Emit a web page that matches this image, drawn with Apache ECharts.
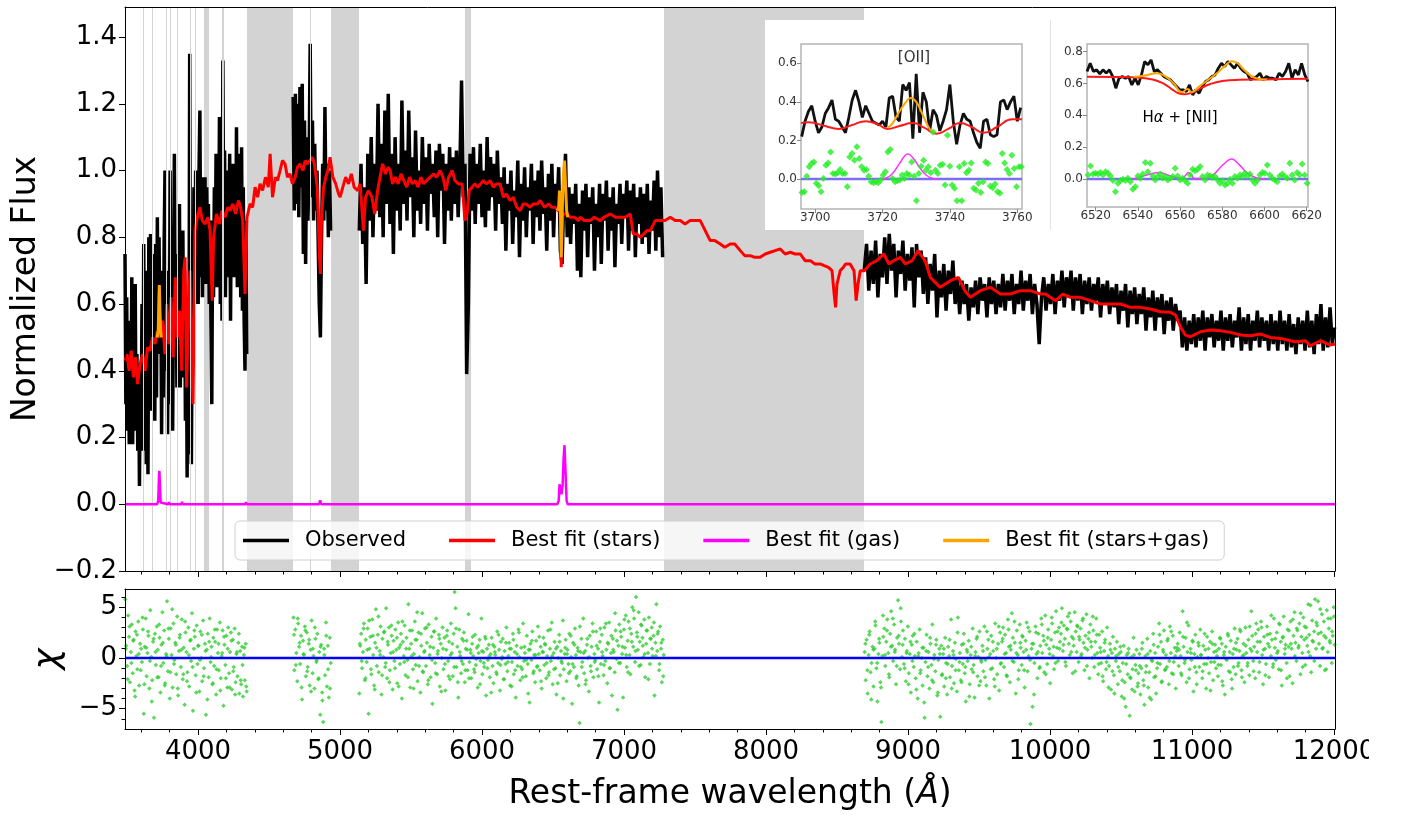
<!DOCTYPE html>
<html>
<head>
<meta charset="utf-8">
<script src="https://cdn.jsdelivr.net/npm/echarts@6/dist/echarts.min.js"></script>
<style>
  html, body { margin: 0; padding: 0; background: #fff; }
  #chart { width: 1402px; height: 815px; }
</style>
</head>
<body>
<div id="chart"></div>
<script>
// ---- wavelength range of both panels
const xMin = 3486, xMax = 12007;
const xMajor = [4000, 5000, 6000, 7000, 8000, 9000, 10000, 11000, 12000];
const xMinor = [3600, 3800, 4200, 4400, 4600, 4800, 5200, 5400, 5600, 5800, 6200, 6400, 6600, 6800,
  7200, 7400, 7600, 7800, 8200, 8400, 8600, 8800, 9200, 9400, 9600, 9800, 10200, 10400, 10600, 10800,
  11200, 11400, 11600, 11800];
const fluxTicks = [-0.2, 0, 0.2, 0.4, 0.6, 0.8, 1.0, 1.2, 1.4];
const chiTicks = [-5, 0, 5];
const chiMinor = [-6, -4, -3, -2, -1, 1, 2, 3, 4, 6];

// masked (grey) regions and thin masked lines
const maskBands = [[4042, 4078], [4345, 4669], [4937, 5134], [5880, 5923], [7282, 8690]];
const maskLines = [3613, 3676, 3773, 3808, 3852, 3944, 3979, 4169, 4176, 4789];

// observed spectrum, sampled on regular wavelength grids (start, end)
const obs1Range = [3486, 4343];
const obs1Flux = [0.75,0.30,0.62,0.22,0.55,0.18,0.50,0.26,0.68,0.18,0.58,0.30,0.66,0.22,0.45,0.16,0.40,0.055,0.42,0.25,
  0.60,0.16,0.78,0.35,0.70,0.12,0.62,0.09,0.80,0.30,0.81,0.28,0.75,0.35,0.72,0.25,0.78,0.32,0.86,0.45,
  0.80,0.50,0.70,0.21,0.62,0.32,0.78,1.0,0.40,0.70,0.21,0.60,0.30,1.0,0.45,0.72,0.22,0.65,1.05,0.50,
  0.75,0.35,0.68,0.40,0.90,0.35,0.75,0.45,0.82,0.38,0.70,0.25,0.62,0.08,0.55,0.15,1.35,0.40,0.12,0.60,
  0.45,0.95,0.60,1.0,0.65,0.90,0.60,1.0,1.18,0.68,0.98,0.62,0.92,0.70,0.98,0.66,0.95,0.75,0.90,0.60,
  0.85,0.55,0.30,0.85,0.62,0.95,0.70,1.05,0.65,1.0,0.72,1.16,0.60,1.02,0.55,1.33,0.75,1.06,0.62,0.98,
  0.72,1.0,0.68,1.05,0.55,0.95,0.72,1.02,0.68,0.98,0.70,1.13,0.65,1.0,0.72,1.05,0.62,1.07,0.58,0.95,
  0.55,0.40,0.85,0.45];
const obs2Range = [4670, 4934];
const obs2Flux = [1.22,0.88,1.23,0.90,1.20,0.86,1.25,0.95,1.26,0.75,1.15,0.72,1.10,0.85,1.0,1.38,0.92,1.15,0.85,1.08,
  0.88,1.0,0.80,0.60,0.50,0.80,1.02,0.85,1.19,0.88,1.02,0.80,1.0,0.82];
const obs3Range = [5136, 7272];
const obs3Flux = [0.82,1.02,0.78,0.95,0.66,1.05,0.85,1.10,0.80,1.02,0.88,1.20,0.86,1.08,0.80,1.18,0.90,1.23,0.84,1.05,
  0.75,1.10,0.88,1.02,0.82,1.21,0.90,1.06,0.85,1.18,0.92,1.04,0.80,1.12,0.88,1.00,0.84,1.10,0.90,1.04,
  0.82,1.08,0.93,1.02,0.86,1.06,0.80,1.08,0.94,1.05,0.78,1.02,0.88,1.07,0.85,1.04,0.90,1.06,0.86,1.00,
  1.27,0.92,1.02,0.39,0.60,1.05,0.88,1.07,0.84,1.02,0.90,1.08,0.86,1.00,0.83,1.10,0.88,1.04,0.92,1.02,
  0.82,1.06,0.90,0.98,0.84,1.01,0.76,0.96,0.88,1.00,0.78,0.94,0.86,1.03,0.74,0.96,0.85,1.01,0.80,0.95,
  0.88,1.02,0.78,0.97,0.86,1.00,0.82,1.03,0.87,0.95,0.76,0.99,0.85,1.02,0.80,0.96,0.88,1.01,0.76,0.72,
  0.92,1.05,0.80,0.95,0.78,0.93,0.84,0.96,0.70,0.90,0.68,0.94,0.82,0.96,0.74,0.92,0.84,0.95,0.70,0.90,
  0.80,0.96,0.72,0.93,0.85,0.97,0.76,0.92,0.82,0.95,0.71,0.90,0.84,0.96,0.78,0.93,0.86,0.97,0.76,0.94,
  0.82,0.96,0.74,0.92,0.84,0.95,0.78,0.93,0.80,0.96,0.75,0.91,0.82,0.97,0.76,1.00,0.80,0.95,0.74];
const obs4Range = [8692, 12004];
const obs4Flux = [0.70,0.78,0.64,0.76,0.66,0.79,0.62,0.75,0.68,0.80,0.66,0.81,0.70,0.78,0.62,0.76,0.69,0.79,0.64,0.75,
  0.67,0.77,0.59,0.78,0.68,0.76,0.63,0.74,0.60,0.72,0.64,0.75,0.56,0.70,0.62,0.72,0.58,0.70,0.63,0.73,
  0.60,0.68,0.57,0.67,0.60,0.66,0.55,0.65,0.59,0.67,0.57,0.68,0.61,0.66,0.56,0.68,0.60,0.67,0.57,0.66,
  0.59,0.69,0.58,0.67,0.61,0.69,0.57,0.66,0.60,0.70,0.58,0.67,0.61,0.69,0.57,0.66,0.60,0.48,0.62,0.68,
  0.58,0.66,0.60,0.69,0.57,0.67,0.61,0.70,0.59,0.68,0.62,0.70,0.58,0.68,0.61,0.69,0.57,0.67,0.60,0.68,
  0.58,0.66,0.61,0.68,0.56,0.66,0.60,0.67,0.57,0.65,0.59,0.66,0.54,0.64,0.58,0.66,0.53,0.64,0.57,0.65,
  0.54,0.63,0.57,0.65,0.52,0.62,0.56,0.64,0.52,0.62,0.56,0.63,0.51,0.61,0.55,0.62,0.52,0.60,0.55,0.58,
  0.47,0.56,0.46,0.55,0.48,0.57,0.47,0.56,0.49,0.58,0.46,0.56,0.50,0.57,0.47,0.55,0.49,0.58,0.46,0.56,
  0.49,0.57,0.47,0.55,0.50,0.59,0.46,0.56,0.48,0.57,0.46,0.55,0.49,0.58,0.47,0.56,0.49,0.55,0.46,0.57,
  0.48,0.55,0.46,0.58,0.48,0.55,0.46,0.57,0.47,0.54,0.45,0.56,0.48,0.55,0.46,0.58,0.47,0.55,0.45,0.57,
  0.48,0.60,0.46,0.56,0.47,0.59,0.48,0.53];

// best-fit stellar continuum [wavelength, flux]
const starsFit = [[3486,0.43],[3500,0.45],[3515,0.40],[3530,0.46],[3545,0.38],[3560,0.44],[3575,0.36],[3592,0.42],
  [3610,0.45],[3627,0.40],[3645,0.47],[3662,0.46],[3680,0.50],[3697,0.48],[3715,0.52],[3733,0.50],[3750,0.55],
  [3768,0.45],[3780,0.60],[3795,0.48],[3810,0.62],[3825,0.44],[3840,0.68],[3855,0.50],[3870,0.58],[3885,0.40],
  [3900,0.70],[3909,0.74],[3920,0.35],[3935,0.62],[3944,0.70],[3955,0.45],[3965,0.30],[3979,0.82],[3995,0.86],
  [4014,0.89],[4030,0.85],[4050,0.84],[4070,0.86],[4085,0.82],[4100,0.61],[4110,0.80],[4130,0.87],[4150,0.84],
  [4170,0.88],[4191,0.86],[4210,0.89],[4226,0.88],[4245,0.90],[4265,0.87],[4285,0.91],[4300,0.89],[4315,0.85],
  [4331,0.63],[4345,0.86],[4367,0.90],[4385,0.89],[4402,0.95],[4420,0.92],[4437,0.96],[4455,0.94],[4475,0.98],
  [4495,0.95],[4508,1.05],[4525,0.92],[4545,0.98],[4560,0.97],[4578,1.00],[4595,1.03],[4613,1.02],[4630,0.98],
  [4648,0.99],[4665,0.96],[4685,0.98],[4700,1.01],[4719,1.02],[4740,1.00],[4755,1.03],[4770,1.02],[4789,1.03],
  [4805,1.04],[4820,1.02],[4840,0.95],[4855,0.75],[4862,0.69],[4870,0.86],[4885,0.95],[4900,0.98],[4915,1.00],
  [4930,1.04],[4950,0.98],[4970,0.96],[4990,0.93],[5001,0.92],[5020,0.95],[5040,0.98],[5060,0.96],[5080,0.99],
  [5100,0.95],[5125,0.94],[5142,0.96],[5165,0.82],[5180,0.92],[5200,0.94],[5225,0.92],[5245,0.87],[5265,0.94],
  [5282,0.98],[5300,1.02],[5320,0.99],[5340,1.01],[5353,1.00],[5370,0.96],[5390,0.98],[5410,0.96],[5430,0.99],
  [5450,0.97],[5470,0.95],[5490,0.98],[5510,0.96],[5530,0.97],[5550,0.95],[5570,0.98],[5590,0.96],[5610,0.97],
  [5635,0.98],[5660,0.99],[5680,0.98],[5705,1.00],[5725,0.98],[5745,0.94],[5765,0.98],[5790,1.00],[5810,0.97],
  [5835,0.96],[5860,0.96],[5880,0.85],[5895,0.87],[5910,0.94],[5930,0.95],[5950,0.96],[5970,0.95],[5990,0.96],
  [6010,0.97],[6030,0.96],[6058,0.97],[6080,0.95],[6100,0.96],[6128,0.96],[6150,0.92],[6170,0.93],[6198,0.91],
  [6220,0.92],[6245,0.89],[6269,0.88],[6290,0.90],[6310,0.90],[6339,0.89],[6360,0.90],[6390,0.90],[6410,0.91],
  [6440,0.89],[6470,0.90],[6490,0.89],[6515,0.89],[6535,0.88],[6550,0.88],[6554,0.82],[6558,0.71],[6563,0.82],
  [6570,0.87],[6600,0.87],[6621,0.86],[6650,0.86],[6680,0.85],[6691,0.86],[6720,0.85],[6762,0.85],[6790,0.86],
  [6832,0.85],[6860,0.86],[6903,0.87],[6940,0.86],[6973,0.86],[7010,0.86],[7044,0.87],[7065,0.81],[7090,0.81],
  [7114,0.80],[7140,0.81],[7160,0.82],[7185,0.82],[7220,0.85],[7255,0.85],[7290,0.85],[7326,0.86],[7360,0.85],
  [7396,0.85],[7430,0.84],[7466,0.85],[7500,0.85],[7537,0.85],[7572,0.82],[7607,0.79],[7640,0.79],[7678,0.78],
  [7710,0.77],[7748,0.78],[7780,0.78],[7819,0.76],[7850,0.745],[7889,0.745],[7920,0.74],[7959,0.74],[7995,0.75],
  [8030,0.755],[8065,0.76],[8100,0.765],[8135,0.75],[8171,0.755],[8205,0.75],[8241,0.75],[8275,0.73],[8312,0.73],
  [8345,0.72],[8382,0.72],[8410,0.715],[8440,0.71],[8465,0.70],[8480,0.63],[8490,0.59],[8500,0.66],[8523,0.70],
  [8545,0.71],[8560,0.72],[8593,0.72],[8620,0.70],[8635,0.61],[8648,0.66],[8664,0.70],[8692,0.70],[8734,0.72],
  [8780,0.73],[8830,0.75],[8865,0.72],[8900,0.73],[8946,0.74],[8980,0.72],[9030,0.73],[9070,0.76],[9120,0.73],
  [9157,0.68],[9227,0.65],[9298,0.67],[9355,0.68],[9400,0.64],[9439,0.62],[9509,0.64],[9580,0.65],[9650,0.63],
  [9721,0.63],[9791,0.64],[9862,0.64],[9932,0.63],[9968,0.63],[10040,0.61],[10090,0.63],[10144,0.62],[10214,0.62],
  [10284,0.61],[10355,0.60],[10425,0.60],[10496,0.60],[10566,0.59],[10637,0.59],[10707,0.585],[10777,0.577],
  [10848,0.575],[10884,0.567],[10918,0.532],[10953,0.507],[10989,0.502],[11059,0.517],[11130,0.522],[11200,0.52],
  [11270,0.515],[11341,0.507],[11411,0.505],[11482,0.51],[11552,0.50],[11623,0.497],[11693,0.49],[11728,0.487],
  [11799,0.49],[11834,0.475],[11904,0.49],[11975,0.477],[12007,0.48]];

// gas emission and stars+gas around emission lines
const gasFit = [[3486,0],[3712,0],[3720,0.01],[3725,0.08],[3728,0.10],[3732,0.06],[3737,0.005],[3742,0],
  [3790,0],[3796,0.006],[3802,0],[3828,0],[3832,0.003],[3836,0],[3882,0],[3888,0.007],[3894,0],
  [4332,0],[4338,0.006],[4344,0],[4852,0],[4860,0.012],[4868,0],[6530,0],[6540,0.01],[6546,0.06],[6553,0.045],
  [6560,0.03],[6568,0.06],[6575,0.14],[6581,0.177],[6588,0.10],[6596,0.01],[6604,0],[12007,0]];
const comboFit = [[3712,0.50],[3720,0.52],[3725,0.62],[3728,0.657],[3732,0.58],[3737,0.52],[3742,0.50],[3745,'-'],
  [6530,0.88],[6540,0.89],[6546,0.94],[6550,0.92],[6554,0.86],[6558,0.74],[6562,0.82],[6568,0.93],[6575,1.0],
  [6581,1.03],[6588,0.96],[6596,0.88],[6604,0.86]];

// residuals (chi), regular grids; two interleaved samplings per fitted region
const res1Range = [3488, 4343];
const res1 = [5.8,1.2,-0.8,4.2,2.1,-2.4,0.6,3.3,-1.5,1.8,-3.2,2.6,0.2,-1.1,3.6,-2.7,1.4,0.9,-0.4,2.8,
  -5.5,1.1,3.9,-1.8,0.5,2.2,-3.0,4.7,0.1,-2.2,1.6,-5.9,2.4,-0.7,3.1,0.8,-1.9,2.0,-3.4,1.3,
  4.5,-0.5,2.7,-2.5,0.4,5.6,-1.3,1.9,-4.0,2.9,0.3,-2.9,3.4,-0.2,1.5,-1.6,4.1,-3.7,0.7,2.3,
  -0.9,3.8,-2.1,1.0,-4.6,2.5,0.6,-1.4,3.0,-2.8,1.7,-0.3,4.4,-5.2,0.9,2.1,-1.7,3.2,-0.6,1.2,
  -3.3,2.6,0.0,-2.3,3.7,-1.0,1.4,-5.6,0.8,2.4,-1.9,3.9,-0.4,1.1,-2.6,2.0,-0.8,1.6,-3.6,2.8,
  0.5,-1.2,3.5,-2.0,0.2,2.7,-4.7,1.3,-0.7,2.2,-2.9,3.0,-1.5,0.6,2.5,-3.1,1.8,-0.9,2.9,-2.4,
  0.4,-1.8,1.5,-3.5,0.7,-2.6,1.1,-3.8,0.3,-2.2,1.4,-3.3];
const res1bRange = [3492, 4340];
const res1b = [0.9,-2.1,3.1,-0.5,1.7,-3.8,2.3,0.4,-1.2,4.0,-2.6,1.0,2.6,-0.3,-4.3,1.9,0.6,-1.9,3.3,-0.8,
  1.5,-2.7,0.2,2.9,-1.4,4.8,-0.6,1.3,-3.0,2.0,0.8,-1.6,3.6,-2.3,0.3,1.8,-0.9,2.7,-3.4,1.2,
  -0.2,2.3,-1.8,0.7,-4.1,1.6,0.1,-2.5,2.8,-1.1,1.4,-3.2,0.5,2.1,-2.0,0.9,-2.9,1.7,-1.3,-3.6,
  0.6,2.4,-2.2,-0.7,1.0,-2.8];
const res2Range = [4672, 4935];
const res2 = [4.0,-1.2,2.8,0.5,-2.3,3.4,1.1,-0.6,2.2,-4.1,1.7,0.3,3.1,-1.8,2.5,-0.9,1.4,-2.7,0.8,3.7,
  -1.5,0.2,-3.0,1.9,-0.4,2.4,-2.1,0.6,-5.6,1.3,-3.4,-6.3,0.9,-1.7,3.5,-2.8,1.2,-3.9,2.0,-0.5];
const res2bRange = [4676, 4930];
const res2b = [2.3,-0.7,3.9,1.5,-2.9,0.4,2.7,-1.3,1.8,-3.3,0.9,3.0,-0.2,-2.0,1.1,-4.2,0.3,2.2,-1.1,-3.0];
const res3Range = [5136, 7280];
const res3 = [-3.5,1.2,2.4,-1.0,0.6,3.4,-2.2,1.8,-0.4,2.9,-5.5,0.9,2.1,-1.6,3.8,0.3,-2.7,1.5,4.8,-0.8,
  2.3,-1.4,0.7,3.1,-3.6,1.9,0.1,2.6,-0.9,4.9,-2.0,1.3,3.0,-1.2,0.5,2.2,-3.1,1.7,-0.3,2.8,
  0.8,-2.5,3.5,1.0,-0.6,2.4,-4.0,1.6,0.2,3.2,-1.7,2.0,-0.2,5.3,0.9,-2.9,1.4,2.7,-1.1,0.4,
  3.6,-0.7,1.8,-2.3,2.5,0.1,-3.4,1.2,4.4,-1.4,0.6,2.9,-0.8,1.5,-2.6,3.3,0.3,-1.9,2.1,-4.5,
  1.0,2.6,-0.5,3.9,-1.6,0.7,2.3,-2.8,1.4,0.0,3.0,-1.1,2.0,-3.2,0.8,2.7,-0.3,1.6,-2.1,3.4,
  0.5,-1.8,2.4,6.5,4.9,-0.9,1.1,-3.9,2.8,0.2,-1.5,1.9,-0.6,2.5,-2.4,0.9,1.7,-1.2,4.3,-0.4,
  0.8,-2.0,1.4,0.2,-1.1,2.3,-0.7,1.0,-2.9,0.5,1.8,-0.3,3.9,-1.6,0.6,-0.9,2.1,-3.7,0.9,-0.2,
  1.3,-1.9,0.4,2.0,-0.8,-2.5,1.1,0.3,-1.4,2.6,-0.5,0.8,-3.2,1.6,-0.1,1.9,-2.1,0.7,-0.6,3.0,
  -1.3,0.2,1.5,-2.7,0.9,-0.4,2.4,-1.6,0.6,-3.9,1.2,-0.8,2.8,0.1,-2.2,1.0,-1.1,3.4,-0.3,0.5,
  -1.8,2.2,-0.6,0.8,-4.4,1.4,-0.2,2.6,-1.5,0.3,-2.4,1.7,-0.9,3.1,0.4,-1.2,1.1,-3.0,0.6,2.0,
  -0.7,1.3,-2.0,0.2,2.7,-1.4,0.9,-0.3,3.5,-2.6,0.5,1.6,-1.0,-3.6,1.1,0.0,2.3,-1.7,0.7,-0.5,
  3.7,-1.1,0.4,1.8,-2.3,0.8,-0.6,2.4,-1.3,0.1,-4.5,1.5,-0.9,2.9,0.3,-1.8,1.0,-2.7,-6.4,0.6,
  1.9,-0.4,3.9,-1.5,0.7,-2.2,1.3,0.0,-3.3,2.2,-0.8,1.1,3.4,-1.9,0.4,-0.2,2.6,-1.1,0.9,-4.4,
  1.6,-0.6,2.3,0.2,-1.7,3.0,-0.3,0.8,-2.5,1.4,3.5,-1.0,0.5,-3.7,1.9,0.6,-1.4,2.7,-0.1,-5.1,
  1.2,3.3,-0.5,2.1,0.4,-3.9,2.8,1.0,4.2,-0.9,1.7,3.6,0.3,-1.6,2.4,5.0,1.1,3.9,-0.4,6.0,
  2.5,0.8,4.5,1.6,-0.7,3.2,2.0,0.1,3.8,-1.9,1.4,2.7,0.5,4.0,-0.6,1.9,3.0,0.2,2.2,-3.7,
  1.5,5.3,0.7,2.6,-1.2,3.1,0.9,-2.4,1.8,0.3];
const res3bRange = [5140, 7276];
const res3b = [1.4,-0.3,2.9,-2.0,0.8,3.7,-1.1,2.2,-3.1,1.0,4.1,0.3,-1.7,2.5,-0.5,1.6,-2.4,3.2,0.6,-1.0,
  2.0,-2.8,1.3,3.6,-0.4,0.9,-1.9,2.7,0.2,-3.0,1.8,4.5,-0.8,2.4,-1.3,0.7,3.0,-2.2,1.1,-0.2,
  2.6,-1.5,0.4,1.9,-3.3,0.9,-0.6,2.2,-1.8,0.3,1.4,-0.9,2.9,-2.4,0.6,-0.3,1.7,-1.2,0.8,-2.0,
  0.5,2.1,-1.4,-0.1,1.2,-2.6,0.7,-0.5,1.9,-1.0,0.2,-3.4,1.3,0.6,-1.6,2.3,-0.7,0.1,-2.1,1.5,
  -0.4,0.9,-2.8,1.8,-1.2,0.4,2.5,-0.9,-1.9,1.1,-0.2,-3.5,0.8,1.7,-1.3,0.3,-0.8,2.1,-2.3,0.6,
  1.4,-0.5,-1.7,2.8,0.2,-1.1,0.9,-2.5,1.6,-0.3,-4.0,1.0,0.4,-1.5,2.2,-0.6,1.3,-2.0,0.7,3.1,
  -0.9,0.5,-2.6,1.9,0.1,-1.3,2.6,-0.4,1.2,-1.8,2.9,0.6,-0.7,3.4,1.5,-1.0,2.2,0.8,4.4,1.7,
  -0.5,2.6,1.1,3.8,0.3,-1.4,2.9,1.6,4.7,0.7,2.1,-0.8,3.3,1.2,0.4,2.7,-2.1,1.9,0.9,3.5,
  0.2,2.4,-0.6,1.5,-1.8];
const res4Range = [8695, 12005];
const res4 = [0.6,-2.2,1.8,-3.5,0.3,2.6,-1.4,-0.5,1.1,-2.8,0.9,3.2,-1.0,-4.3,0.4,1.5,-2.4,-6.3,0.2,2.1,
  2.9,-0.8,1.6,3.8,0.5,-1.9,2.4,4.6,1.2,-0.3,3.3,0.8,-2.6,2.0,5.7,1.4,-1.1,3.6,0.1,2.7,
  -0.6,1.9,-2.3,0.7,3.1,-1.5,0.4,-3.4,1.3,2.2,-0.9,0.2,-2.0,1.6,-4.0,0.5,2.8,-1.2,0.0,-2.7,
  1.0,-5.9,-0.4,2.3,-1.8,0.6,-3.0,1.4,-0.7,3.3,-2.4,0.3,-1.3,1.8,-3.7,-0.2,0.9,-5.8,1.2,-1.6,
  0.4,-2.8,2.0,-0.5,-3.6,1.1,0.2,-1.9,3.8,-0.8,0.7,-2.5,1.5,-0.1,-3.3,4.0,-1.2,0.5,-2.2,1.3,
  -0.6,2.4,-1.5,-4.3,0.8,-0.3,1.7,-2.6,0.3,-1.1,2.9,-0.7,-3.9,0.6,1.9,-1.8,0.1,2.6,-2.3,-0.4,
  1.2,-1.3,3.1,-0.2,-2.7,0.9,1.8,-4.0,0.4,2.2,-1.0,0.7,-2.1,3.4,0.0,-1.6,1.4,-3.2,2.5,-0.5,
  1.6,3.0,-0.9,2.3,0.5,-1.8,3.8,1.1,-2.4,0.8,4.4,2.0,-0.4,1.5,-3.5,2.7,0.3,-1.2,3.3,1.0,
  -0.7,2.1,0.6,-2.9,1.7,3.5,-1.3,0.2,2.6,-6.5,0.9,-4.8,1.4,-0.5,3.1,0.4,-2.0,2.4,-1.0,1.2,
  3.9,0.5,2.2,-1.4,4.2,1.3,-0.6,2.8,0.9,-2.5,1.8,3.4,0.2,-1.1,2.5,4.6,1.0,-0.3,3.0,1.6,
  2.4,4.9,0.7,3.2,1.9,-0.8,2.9,4.1,1.4,0.3,3.6,2.1,-1.5,1.2,4.5,2.6,0.6,3.1,-0.4,1.8,
  2.9,0.4,3.7,1.5,-1.2,2.2,4.3,0.8,1.9,-2.0,3.3,1.1,0.0,2.7,-0.9,1.6,3.9,0.5,-1.6,2.3,
  1.0,-0.5,2.6,-2.3,0.7,1.8,-1.1,3.0,0.2,-0.8,1.4,-3.1,0.5,2.1,-1.7,0.9,-0.3,1.6,-2.6,0.4,
  -1.3,0.6,-3.8,-0.5,1.2,-2.4,-4.8,0.3,-1.6,0.9,-5.7,-2.0,0.1,-1.1,2.0,-3.3,-0.7,0.8,-2.8,-1.5,
  0.4,-3.6,-1.0,1.5,-2.2,-4.6,0.2,-0.8,1.9,-2.9,-1.4,0.7,-4.1,-0.3,2.4,-1.9,0.5,-3.5,-1.0,1.1,
  3.4,-0.6,1.6,-2.3,0.8,2.7,-1.2,0.3,-0.9,1.9,-2.6,3.1,0.5,-1.5,2.2,-0.4,1.0,-3.0,0.7,1.4,
  -0.8,2.5,0.2,-1.7,4.6,1.1,-0.5,2.0,-2.4,0.6,3.2,-1.1,0.9,-0.2,1.7,-3.3,0.4,2.3,-1.4,0.1,
  1.5,-0.9,2.8,0.3,-2.0,1.2,-0.6,0.8,-3.0,2.1,0.0,-1.5,1.6,-0.4,2.6,-2.2,0.6,1.3,-1.0,0.2,
  -1.8,0.9,2.0,-0.7,1.4,-2.7,0.3,-3.6,1.1,-0.2,2.4,-1.3,0.6,1.7,-2.1,0.4,-0.9,2.9,-1.6,0.8,
  1.9,-0.5,0.7,2.6,-1.2,0.2,1.4,-2.4,3.0,0.5,-0.8,1.8,-1.7,0.9,4.6,2.2,-0.3,1.1,-2.0,3.4,
  0.6,2.8,-1.4,1.6,3.6,0.3,-2.6,2.1,0.9,-0.6,3.1,1.4,-1.9,2.4,0.2,1.8,-0.9,3.9,1.0,-0.2,
  2.5,0.7,-1.1,3.3,1.6,-2.7,2.0,4.1,0.4,1.3,-0.5,2.8,1.1,-1.8,3.6,0.9,-2.5,2.2,4.5,1.5,
  -0.3,2.7,1.0,3.4,-1.6,2.1,0.5,4.0,1.8,-0.7,3.0,1.2,5.3,2.3,0.2,-1.4,3.7,1.6,2.6,5.8,
  0.9,3.2,5.6,1.4,-0.8,2.5,4.3,1.0,3.6,-1.2,2.0,4.7,0.6,2.9,1.7,3.9,-0.5,2.2,5.0,1.3];
const res4bRange = [8700, 12000];
const res4b = [1.4,-1.2,2.3,-4.1,0.8,3.6,-0.5,1.9,-2.9,4.2,0.3,2.7,-1.6,1.1,3.9,0.6,-0.8,2.2,4.9,1.3,
  -1.0,0.5,-2.6,1.6,-0.3,2.4,-3.1,0.2,-1.5,1.0,-4.4,0.7,-0.9,2.0,-2.2,-0.1,1.3,-3.4,0.4,-1.7,
  0.9,-2.0,-0.6,1.8,-3.0,0.3,-1.2,2.5,-0.4,-2.4,1.4,-0.9,0.6,-3.8,1.1,-1.4,0.2,2.1,-2.7,-0.2,
  0.7,-1.9,2.6,0.1,-1.1,1.6,-2.8,0.9,3.1,-0.6,1.9,0.4,-1.7,2.8,1.2,-0.3,3.6,0.5,-2.1,1.5,
  2.2,-1.2,0.8,3.0,-0.2,1.4,-3.6,2.5,0.6,-0.9,3.3,1.7,-1.6,2.0,0.4,4.0,1.1,-0.5,2.6,0.9,
  3.5,1.3,-0.4,2.8,4.4,0.6,1.9,-1.3,3.2,2.1,0.2,3.9,1.0,-0.8,2.5,1.6,4.1,0.3,2.3,-0.6,
  0.6,-1.8,1.5,-0.4,-2.9,0.8,-1.3,-3.5,0.2,-0.9,1.1,-2.2,-4.0,-0.6,0.5,-1.9,-3.1,0.3,-1.2,-2.5,
  -0.8,0.9,-2.7,-1.4,0.4,-3.9,-0.2,1.3,-1.8,-0.5,2.3,-2.4,0.6,-1.1,1.7,-0.3,2.6,-1.6,0.2,1.0,
  0.8,-1.5,2.1,-0.2,3.5,-2.0,0.5,1.6,-0.9,-2.6,1.2,0.3,-1.3,2.4,-0.6,0.9,-3.2,1.4,-0.4,0.7,
  -0.7,1.9,-2.3,0.6,-0.1,2.2,-1.4,-3.0,0.9,1.5,-0.8,2.8,-1.9,0.3,1.2,-0.5,3.1,0.7,-1.3,2.4,
  1.6,-0.4,3.0,0.8,-1.7,2.3,1.1,4.2,-0.6,1.9,0.5,3.4,-1.2,2.1,0.9,-2.0,2.7,1.4,3.8,0.2,
  2.9,1.2,4.4,-0.9,3.1,2.0,0.6,5.2,1.7,-0.3,3.5,2.4,4.8,0.9,2.2,-1.1,3.9,1.5,2.6,4.1];

// ---- inset: [OII]
const oiiObsRange = [3696, 3761];
const oiiObs = [0.22,0.30,0.35,0.38,0.30,0.24,0.27,0.34,0.37,0.41,0.31,0.30,0.27,0.24,0.32,0.41,0.46,0.40,0.32,0.38,
  0.34,0.30,0.29,0.28,0.30,0.27,0.42,0.43,0.32,0.30,0.49,0.46,0.50,0.21,0.545,0.24,0.45,0.40,0.25,0.36,
  0.33,0.25,0.30,0.36,0.49,0.30,0.18,0.28,0.34,0.31,0.30,0.24,0.19,0.16,0.30,0.31,0.23,0.22,0.23,0.40,
  0.41,0.36,0.40,0.43,0.30,0.37];
const oiiStars = [[3695.8,0.29],[3698,0.295],[3700,0.29],[3703,0.275],[3707,0.26],[3711,0.28],[3715,0.30],
  [3718.5,0.285],[3721.5,0.26],[3725,0.275],[3729,0.29],[3732.5,0.265],[3736,0.235],[3739.5,0.26],[3743,0.29],
  [3746.5,0.27],[3750,0.24],[3754,0.27],[3758.5,0.31],[3761.4,0.31]];
const oiiCombo = [[3721.5,0.265],[3723,0.29],[3725,0.35],[3727,0.40],[3728.3,0.42],[3730,0.40],[3732,0.33],
  [3734,0.26],[3735.2,0.24]];
const oiiGas = [[3719,0],[3721,0.005],[3723,0.03],[3725,0.08],[3726.5,0.118],[3727.5,0.13],[3729,0.11],
  [3731,0.06],[3733,0.02],[3735,0.003],[3736.5,0]];
const oiiResRange = [3696.1, 3761.2];
const oiiRes = [-0.07,-0.065,0.015,0.064,0.081,0.089,-0.022,-0.034,-0.065,0.003,0.072,0.084,0.141,0.029,0.026,0.033,
  0.05,0.029,0.029,-0.04,0.115,0.132,0.098,0.167,0.107,0.064,0.046,0.05,0.015,-0.014,-0.019,-0.014,-0.019,
  -0.005,0.021,0.038,0.141,0.153,0.003,-0.014,-0.009,-0.005,0.021,0.003,0.029,0.021,0.089,0.015,-0.112,0.029,
  0.067,0.098,0.046,0.064,0.033,0.244,0.046,0.029,0.072,0.077,-0.031,0.227,0.067,-0.031,-0.048,-0.112,0.064,
  -0.112,0.081,0.033,0.046,0.084,-0.048,-0.057,-0.022,-0.07,-0.014,0.089,0.081,-0.036,-0.045,-0.026,-0.065,
  -0.074,0.132,0.084,0.05,0.029,0.124,0.055,-0.04,0.064,0.064];

// ---- inset: H-alpha + [NII]
const haObsRange = [6515.9, 6620.6];
const haObs = [0.675,0.727,0.675,0.686,0.66,0.686,0.665,0.686,0.644,0.57,0.633,0.644,0.633,0.644,0.591,0.633,0.591,
  0.654,0.738,0.717,0.748,0.675,0.686,0.665,0.644,0.633,0.623,0.602,0.581,0.56,0.56,0.549,0.591,0.528,0.56,0.539,
  0.581,0.612,0.623,0.644,0.654,0.696,0.727,0.706,0.738,0.717,0.696,0.727,0.696,0.675,0.665,0.623,0.633,0.644,
  0.665,0.623,0.644,0.633,0.633,0.623,0.665,0.644,0.675,0.727,0.633,0.686,0.654,0.727,0.654,0.612];
const haStars = [[6515.9,0.643],[6530,0.641],[6540,0.638],[6547,0.625],[6552,0.60],[6556,0.565],[6559,0.54],
  [6562,0.532],[6565,0.54],[6569,0.565],[6574,0.595],[6580,0.615],[6588,0.623],[6600,0.625],[6610,0.628],[6620.6,0.63]];
const haCombo = [[6538,0.64],[6544,0.652],[6549,0.665],[6553,0.645],[6557,0.60],[6561,0.545],[6563.5,0.565],
  [6565.5,0.545],[6569,0.58],[6573,0.62],[6578,0.67],[6582,0.72],[6584.5,0.74],[6587,0.73],[6590,0.69],
  [6594,0.645],[6598,0.627],[6601,0.625]];
const haGas = [[6538,0],[6543,0.02],[6548,0.038],[6550,0.04],[6553,0.03],[6557,0.012],[6561,0.005],[6563,0.03],
  [6564,0.04],[6565.5,0.02],[6567,0.003],[6572,0.005],[6576,0.03],[6580,0.085],[6584.5,0.125],[6588,0.09],
  [6592,0.035],[6596,0.008],[6600,0]];
const haResRange = [6516.4, 6620.2];
const haRes = [0.025,0.082,0.031,0.036,0.031,0.04,0.025,0.046,0.036,0.019,-0.01,-0.08,-0.027,-0.01,-0.002,-0.01,
  0.004,-0.017,-0.065,-0.048,0.019,0.004,0.031,0.103,0.046,0.099,0.019,-0.006,0.015,0.031,0.004,0.015,-0.006,
  0.004,0.015,0.067,0.019,-0.006,0.004,-0.01,-0.027,0.025,0.061,0.052,0.061,0.078,0.015,-0.006,0.025,0.019,
  0.01,0.015,-0.006,-0.027,-0.01,-0.038,-0.027,-0.002,-0.027,0.015,0.004,0.025,0.015,0.036,0.019,0.031,-0.006,
  -0.027,-0.01,0.025,0.04,0.036,0.088,0.025,0.004,-0.006,-0.017,0.019,0.031,0.015,0.004,0.099,0.025,-0.006,
  0.04,0.025,0.094,0.025,-0.027];

// spread values of a regularly sampled array over its wavelength range
function onGrid(range, vals) {
  const step = (range[1] - range[0]) / (vals.length - 1);
  return vals.map((v, i) => [range[0] + i * step, v]);
}

const observed = [].concat(
  onGrid(obs1Range, obs1Flux), [[4344, '-']],
  onGrid(obs2Range, obs2Flux), [[4936, '-']],
  onGrid(obs3Range, obs3Flux), [[7274, '-']],
  onGrid(obs4Range, obs4Flux)
);
const residuals = [].concat(
  onGrid(res1Range, res1), onGrid(res1bRange, res1b),
  onGrid(res2Range, res2), onGrid(res2bRange, res2b),
  onGrid(res3Range, res3), onGrid(res3bRange, res3b),
  onGrid(res4Range, res4), onGrid(res4bRange, res4b)
);

const FONT = 'DejaVu Sans';
const minus = s => s.replace('-', '\u2212');
const fmt1 = v => minus((Math.abs(v) < 1e-9 ? 0 : v).toFixed(1));

const chart = echarts.init(document.getElementById('chart'));

function frameAxis(grid, pos, dim) {
  const a = {
    gridIndex: grid, type: 'value', position: pos, z: 10,
    axisLine: { show: true, onZero: false, lineStyle: { color: '#000', width: 1 } },
    axisTick: { show: false }, axisLabel: { show: false }, splitLine: { show: false }
  };
  if (dim === 'x') { a.min = xMin; a.max = xMax; }
  return a;
}
function tickAxis(grid, pos, min, max, values, len, labels, extra) {
  return Object.assign({
    gridIndex: grid, type: 'value', position: pos, min: min, max: max, z: 10,
    axisLine: { show: false, onZero: false },
    axisTick: { show: true, customValues: values, length: len, lineStyle: { color: '#000', width: 1 } },
    axisLabel: labels ? Object.assign({ show: true, customValues: values }, labels) : { show: false },
    splitLine: { show: false }
  }, extra || {});
}

const insetAxisBase = {
  type: 'value', z: 21,
  axisLine: { show: false, onZero: false },
  splitLine: { show: false }
};

const option = {
  animation: false,
  backgroundColor: '#fff',
  textStyle: { fontFamily: FONT },
  grid: [
    { left: 125, top: 7, width: 1210, height: 564, show: false },
    { left: 125, top: 589, width: 1210, height: 140, show: false },
    { left: 801, top: 44, width: 221, height: 165, show: true, z: 20, backgroundColor: '#fff', borderColor: '#b4b4b4', borderWidth: 1.5 },
    { left: 1087, top: 44, width: 221, height: 163, show: true, z: 20, backgroundColor: '#fff', borderColor: '#b4b4b4', borderWidth: 1.5 }
  ],
  xAxis: [
    // 0: main, major ticks + bottom line
    Object.assign(tickAxis(0, 'bottom', xMin, xMax, xMajor, 6, null), { axisLine: { show: true, onZero: false, lineStyle: { color: '#000' } } }),
    tickAxis(0, 'bottom', xMin, xMax, xMinor, 3.5, null),
    frameAxis(0, 'top', 'x'),
    // 3: residual panel with labels
    Object.assign(tickAxis(1, 'bottom', xMin, xMax, xMajor, 6,
      { fontSize: 26, color: '#000', margin: 10, formatter: v => String(v) }),
      {
        axisLine: { show: true, onZero: false, lineStyle: { color: '#000' } },
        name: '{n|Rest-frame wavelength (}{i|\u00c5}{n|)}', nameLocation: 'middle', nameGap: 49,
        nameTextStyle: { rich: { n: { fontSize: 33, fontFamily: FONT, color: '#000' },
          i: { fontSize: 33, fontFamily: FONT, fontStyle: 'italic', color: '#000' } } }
      }),
    tickAxis(1, 'bottom', xMin, xMax, xMinor, 3.5, null),
    frameAxis(1, 'top', 'x'),
    // 6: [OII] inset
    Object.assign({}, insetAxisBase, {
      gridIndex: 2, min: 3695.8, max: 3761.4,
      axisTick: { show: true, customValues: [3700, 3720, 3740, 3760], length: 4, lineStyle: { color: '#888' } },
      axisLabel: { customValues: [3700, 3720, 3740, 3760], fontSize: 12, color: '#333', margin: 3, formatter: v => String(v) }
    }),
    // 7: H-alpha inset
    Object.assign({}, insetAxisBase, {
      gridIndex: 3, min: 6515.9, max: 6620.6,
      axisTick: { show: true, customValues: [6520, 6540, 6560, 6580, 6600, 6620], length: 4, lineStyle: { color: '#888' } },
      axisLabel: { customValues: [6520, 6540, 6560, 6580, 6600, 6620], fontSize: 12, color: '#333', margin: 3, formatter: v => String(v) }
    })
  ],
  yAxis: [
    // 0: main flux axis
    Object.assign(tickAxis(0, 'left', -0.2, 1.49, fluxTicks, 6,
      { fontSize: 26, color: '#000', margin: 8, formatter: fmt1 }),
      {
        axisLine: { show: true, onZero: false, lineStyle: { color: '#000' } },
        name: 'Normalized Flux', nameLocation: 'middle', nameGap: 82, nameRotate: 90,
        nameTextStyle: { fontSize: 33, color: '#000', fontFamily: FONT }
      }),
    Object.assign(frameAxis(0, 'right', 'y'), { min: -0.2, max: 1.49 }),
    // 2: residual axis
    Object.assign(tickAxis(1, 'left', -7, 6.8, chiTicks, 6,
      { fontSize: 26, color: '#000', margin: 8, formatter: v => minus(String(v)) }),
      {
        axisLine: { show: true, onZero: false, lineStyle: { color: '#000' } },
        name: '\u03c7', nameLocation: 'middle', nameGap: 58, nameRotate: 90,
        nameTextStyle: { fontSize: 36, color: '#000', fontFamily: FONT, fontStyle: 'italic' }
      }),
    tickAxis(1, 'left', -7, 6.8, chiMinor, 3.5, null),
    Object.assign(frameAxis(1, 'right', 'y'), { min: -7, max: 6.8 }),
    // 5: [OII] inset
    Object.assign({}, insetAxisBase, {
      gridIndex: 2, min: -0.155, max: 0.7,
      axisTick: { show: true, customValues: [0, 0.2, 0.4, 0.6], length: 4, lineStyle: { color: '#888' } },
      axisLabel: { customValues: [0, 0.2, 0.4, 0.6], fontSize: 12, color: '#333', margin: 4, formatter: fmt1 }
    }),
    // 6: H-alpha inset
    Object.assign({}, insetAxisBase, {
      gridIndex: 3, min: -0.176, max: 0.848,
      axisTick: { show: true, customValues: [0, 0.2, 0.4, 0.6, 0.8], length: 4, lineStyle: { color: '#888' } },
      axisLabel: { customValues: [0, 0.2, 0.4, 0.6, 0.8], fontSize: 12, color: '#333', margin: 4, formatter: fmt1 }
    })
  ],
  legend: {
    left: 235, top: 521, z: 30,
    data: ['Observed', 'Best fit (stars)', 'Best fit (gas)', 'Best fit (stars+gas)'].map(n => ({ name: n, icon: 'rect' })),
    itemWidth: 46, itemHeight: 3.5, itemGap: 43,
    padding: [9, 15, 9, 8],
    backgroundColor: 'rgba(255,255,255,0.8)', borderColor: '#d0d0d0', borderWidth: 1, borderRadius: 5,
    textStyle: { fontSize: 21, color: '#000', fontFamily: FONT, padding: [0, 0, 0, 11] }
  },
  graphic: [
    { type: 'rect', z: 10, silent: true, shape: { x: 765, y: 20, width: 278, height: 210 }, style: { fill: '#fff' } },
    { type: 'rect', z: 10, silent: true, shape: { x: 1050, y: 20, width: 284, height: 210 }, style: { fill: '#fff' } },
    { type: 'line', z: 11, silent: true, shape: { x1: 1050.5, y1: 20, x2: 1050.5, y2: 230 }, style: { stroke: '#e2e2e2', lineWidth: 1 } },
    { type: 'text', z: 30, silent: true, x: 914, y: 58.5,
      style: { text: '[OII]', font: '15px "DejaVu Sans"', fill: '#333', align: 'center', verticalAlign: 'middle' } },
    { type: 'text', z: 30, silent: true, x: 1180, y: 118,
      style: { text: '{a|H}{b|\u03b1}{a| + [NII]}', align: 'center', verticalAlign: 'middle',
        rich: { a: { fontSize: 15, fontFamily: FONT, color: '#333' }, b: { fontSize: 15, fontFamily: FONT, fontStyle: 'italic', color: '#333' } } } },
    { type: 'rect', z: 50, silent: true, shape: { x: 1369, y: 735, width: 33, height: 40 }, style: { fill: '#fff' } }
  ],
  series: [
    {
      // masked regions
      type: 'line', xAxisIndex: 0, yAxisIndex: 0, z: 1, silent: true,
      data: [[xMin, 0]], showSymbol: false, lineStyle: { width: 0 },
      markArea: { silent: true, itemStyle: { color: '#d3d3d3' },
        data: maskBands.map(b => [{ xAxis: b[0] }, { xAxis: b[1] }]) },
      markLine: { silent: true, symbol: ['none', 'none'], label: { show: false },
        lineStyle: { color: '#d3d3d3', width: 1, type: 'solid' },
        data: maskLines.map(x => ({ xAxis: x })) }
    },
    {
      name: 'Observed', type: 'line', xAxisIndex: 0, yAxisIndex: 0, z: 3,
      data: observed, showSymbol: false, connectNulls: false,
      itemStyle: { color: '#000' }, lineStyle: { color: '#000', width: 3.5 }
    },
    {
      name: 'Best fit (stars)', type: 'line', xAxisIndex: 0, yAxisIndex: 0, z: 4,
      data: starsFit, showSymbol: false,
      itemStyle: { color: '#ff0000' }, lineStyle: { color: '#ff0000', width: 3 }
    },
    {
      name: 'Best fit (gas)', type: 'line', xAxisIndex: 0, yAxisIndex: 0, z: 5,
      data: gasFit, showSymbol: false,
      itemStyle: { color: '#ff00ff' }, lineStyle: { color: '#ff00ff', width: 2.5 }
    },
    {
      name: 'Best fit (stars+gas)', type: 'line', xAxisIndex: 0, yAxisIndex: 0, z: 5,
      data: comboFit, showSymbol: false, connectNulls: false,
      itemStyle: { color: '#ffa500' }, lineStyle: { color: '#ffa500', width: 3 }
    },
    {
      type: 'scatter', xAxisIndex: 3, yAxisIndex: 2, z: 3, silent: true,
      data: residuals, symbol: 'diamond', symbolSize: 4.5, itemStyle: { color: '#32cd32' }
    },
    {
      type: 'line', xAxisIndex: 3, yAxisIndex: 2, z: 4, silent: true,
      data: [[xMin, 0], [xMax, 0]], showSymbol: false, lineStyle: { color: '#0000ff', width: 2.5 }
    },
    // [OII] inset
    { type: 'line', xAxisIndex: 6, yAxisIndex: 5, z: 22, silent: true, data: onGrid(oiiObsRange, oiiObs),
      showSymbol: false, lineStyle: { color: '#111', width: 2.8 } },
    { type: 'line', xAxisIndex: 6, yAxisIndex: 5, z: 23, silent: true, data: oiiStars, smooth: true,
      showSymbol: false, lineStyle: { color: '#ff1a1a', width: 2 } },
    { type: 'line', xAxisIndex: 6, yAxisIndex: 5, z: 24, silent: true, data: oiiCombo, smooth: true,
      showSymbol: false, lineStyle: { color: '#ffa500', width: 2 } },
    { type: 'line', xAxisIndex: 6, yAxisIndex: 5, z: 24, silent: true, data: [[3695.8, 0], [3761.4, 0]],
      showSymbol: false, lineStyle: { color: '#7b6cf6', width: 2.5 } },
    { type: 'line', xAxisIndex: 6, yAxisIndex: 5, z: 25, silent: true, data: oiiGas, smooth: true,
      showSymbol: false, lineStyle: { color: '#ff33ff', width: 1.5 } },
    { type: 'scatter', xAxisIndex: 6, yAxisIndex: 5, z: 26, silent: true, data: onGrid(oiiResRange, oiiRes),
      symbol: 'diamond', symbolSize: 7, itemStyle: { color: '#22ee22' } },
    // H-alpha inset
    { type: 'line', xAxisIndex: 7, yAxisIndex: 6, z: 22, silent: true, data: onGrid(haObsRange, haObs),
      showSymbol: false, lineStyle: { color: '#111', width: 2.8 } },
    { type: 'line', xAxisIndex: 7, yAxisIndex: 6, z: 23, silent: true, data: haStars, smooth: true,
      showSymbol: false, lineStyle: { color: '#ff1a1a', width: 2 } },
    { type: 'line', xAxisIndex: 7, yAxisIndex: 6, z: 24, silent: true, data: haCombo, smooth: true,
      showSymbol: false, lineStyle: { color: '#ffa500', width: 2 } },
    { type: 'line', xAxisIndex: 7, yAxisIndex: 6, z: 24, silent: true, data: [[6515.9, 0], [6620.6, 0]],
      showSymbol: false, lineStyle: { color: '#7b6cf6', width: 2.5 } },
    { type: 'line', xAxisIndex: 7, yAxisIndex: 6, z: 25, silent: true, data: haGas, smooth: 0.4,
      showSymbol: false, lineStyle: { color: '#ff33ff', width: 1.5 } },
    { type: 'scatter', xAxisIndex: 7, yAxisIndex: 6, z: 26, silent: true, data: onGrid(haResRange, haRes),
      symbol: 'diamond', symbolSize: 7, itemStyle: { color: '#22ee22' } }
  ]
};

chart.setOption(option);
</script>
</body>
</html>
